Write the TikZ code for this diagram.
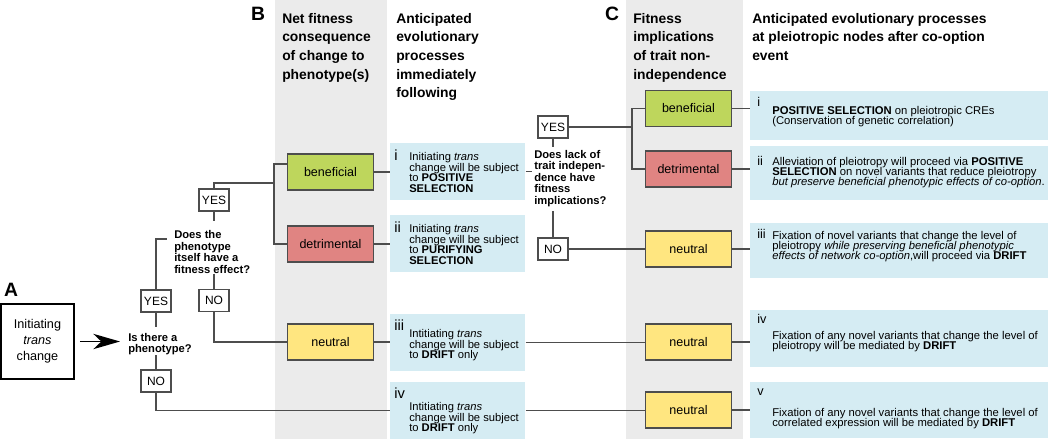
\documentclass[tikz,border=0pt]{standalone}
\usepackage{fontspec}
\setmainfont{Liberation Sans}
\usetikzlibrary{arrows.meta,positioning}
\definecolor{colgray}{HTML}{EBEBEB}
\definecolor{boxblue}{HTML}{D5ECF3}
\definecolor{goodgreen}{HTML}{BED65C}
\definecolor{badred}{HTML}{E08482}
\definecolor{neutyellow}{HTML}{FFE680}
\definecolor{wire}{HTML}{4D4D4D}
\newcommand{\tightlines}{\lineskiplimit=-10pt\relax}

\begin{document}
\begin{tikzpicture}[x=0.75pt,y=-0.75pt,
  every node/.style={inner sep=0pt},
  conn/.style={draw=wire,line width=0.9pt},
  startbox/.style={draw=black,line width=1.6pt,minimum width=55pt,minimum height=56pt,align=center,font=\fontsize{9.5}{12}\selectfont},
  yn/.style={draw=wire,line width=0.9pt,fill=white,minimum width=22.5pt,minimum height=16.5pt,font=\fontsize{9}{10}\selectfont},
  outc/.style={draw=wire,line width=0.9pt,minimum width=64pt,minimum height=27pt,font=\fontsize{9.4}{11}\selectfont},
  quest/.style={align=left,anchor=west,font=\fontsize{8.4}{8.6}\selectfont\bfseries\tightlines},
  head/.style={align=left,anchor=north west,font=\fontsize{10.4}{14}\selectfont\bfseries},
  panel/.style={font=\fontsize{14.5}{14.5}\selectfont\bfseries},
  procB/.style={fill=boxblue,minimum width=101.25pt,minimum height=42.75pt,anchor=north west},
  procC/.style={fill=boxblue,minimum width=223.5pt,minimum height=#1,anchor=north west},
  numB/.style={anchor=north west,font=\fontsize{11}{11}\selectfont},
  numC/.style={anchor=north west,font=\fontsize{9.5}{9.5}\selectfont},
  txtB/.style={anchor=north west,align=left,font=\fontsize{8.4}{8}\selectfont\tightlines},
  txtC/.style={anchor=north west,align=left,font=\fontsize{8.45}{7.6}\selectfont\tightlines}]
\useasboundingbox (0,0) rectangle (1050,439);
\fill[colgray] (275,0) rectangle (387,439);
\fill[colgray] (626,0) rectangle (743,439);

\node[panel] (labA) at (11,290) {A};
\node[panel] (labB) at (258,14) {B};
\node[panel] (labC) at (612,14) {C};

\node[head] (hB1) at (282,13) {Net fitness\\consequence\\of change to\\phenotype(s)};
\node[head] (hB2) at (396,13) {Anticipated\\evolutionary\\processes\\immediately\\following};
\node[head] (hC1) at (633,13) {Fitness\\implications\\of trait non-\\independence};
\node[head] (hC2) at (752,13) {Anticipated evolutionary processes\\at pleiotropic nodes after co-option\\event};

\node[startbox] (start) at (37.5,341.5) {Initiating\\\textit{trans}\\change};
\node[quest] (q1) at (128,344) {Is there a\\phenotype?};
\node[yn] (yes1) at (156,301) {YES};
\node[yn] (no1) at (156,381) {NO};
\node[quest] (q2) at (174,252) {Does the\\phenotype\\itself have a\\fitness effect?};
\node[yn] (yes2) at (214,200) {YES};
\node[yn] (no2) at (214,300.5) {NO};

\node[outc,fill=goodgreen] (benB) at (330.5,172) {beneficial};
\node[outc,fill=badred] (detB) at (330.5,244) {detrimental};
\node[outc,fill=neutyellow] (neuB) at (330.5,342) {neutral};

\node[procB] (bi) at (390,143) {};
\node[procB] (bii) at (390,215) {};
\node[procB] (biii) at (390,314) {};
\node[procB] (biv) at (390,382) {};
\node[numB] at ([xshift=3pt,yshift=-5.25pt]bi.north west) {i};
\node[txtB] at ([xshift=14.25pt,yshift=-6.75pt]bi.north west) {Initiating \textit{trans}\\change will be subject\\to \textbf{POSITIVE}\\\textbf{SELECTION}};
\node[numB] at ([xshift=3pt,yshift=-5.25pt]bii.north west) {ii};
\node[txtB] at ([xshift=14.25pt,yshift=-6.75pt]bii.north west) {Initiating \textit{trans}\\change will be subject\\to \textbf{PURIFYING}\\\textbf{SELECTION}};
\node[numB] at ([xshift=3pt,yshift=-4.5pt]biii.north west) {iii};
\node[txtB] at ([xshift=14.25pt,yshift=-11.25pt]biii.north west) {Intitiating \textit{trans}\\change will be subject\\to \textbf{DRIFT} only};
\node[numB] at ([xshift=3pt,yshift=-4.5pt]biv.north west) {iv};
\node[txtB] at ([xshift=14.25pt,yshift=-15pt]biv.north west) {Intitiating \textit{trans}\\change will be subject\\to \textbf{DRIFT} only};

\node[quest] (q3) at (534,178.5) {Does lack of\\trait indepen-\\dence have\\fitness\\implications?};
\node[yn] (yes3) at (553,127) {YES};
\node[yn] (no3) at (553,249) {NO};
\coordinate (brB) at (274,183);
\coordinate (brC) at (632,127);

\node[outc,fill=goodgreen] (benC) at (688.5,108.5) {beneficial};
\node[outc,fill=badred] (detC) at (688.5,169) {detrimental};
\node[outc,fill=neutyellow] (neuC1) at (688.5,249) {neutral};
\node[outc,fill=neutyellow] (neuC2) at (688.5,342) {neutral};
\node[outc,fill=neutyellow] (neuC3) at (688.5,410) {neutral};

\node[procC=36.75pt] (ci) at (750,91) {};
\node[procC=40.5pt] (cii) at (750,146) {};
\node[procC=41.25pt] (ciii) at (750,223) {};
\node[procC=42.75pt] (civ) at (750,310) {};
\node[procC=42pt] (cv) at (750,382) {};
\node[numC] at ([xshift=5.25pt,yshift=-4.5pt]ci.north west) {i};
\node[txtC] at ([xshift=16.5pt,yshift=-11.25pt]ci.north west) {\textbf{POSITIVE SELECTION} on pleiotropic CREs\\(Conservation of genetic correlation)};
\node[numC] at ([xshift=5.25pt,yshift=-7.5pt]cii.north west) {ii};
\node[txtC] at ([xshift=16.5pt,yshift=-8.25pt]cii.north west) {Alleviation of pleiotropy will proceed via \textbf{POSITIVE}\\\textbf{SELECTION} on novel variants that reduce pleiotropy\\\textit{but preserve beneficial phenotypic effects of co-option}.};
\node[numC] at ([xshift=5.25pt,yshift=-4.5pt]ciii.north west) {iii};
\node[txtC] at ([xshift=16.5pt,yshift=-6pt]ciii.north west) {Fixation of novel variants that change the level of\\pleiotropy \textit{while preserving beneficial phenotypic}\\\textit{effects of network co-option},will proceed via \textbf{DRIFT}};
\node[numC] at ([xshift=5.25pt,yshift=-3pt]civ.north west) {iv};
\node[txtC] at ([xshift=16.5pt,yshift=-15.75pt]civ.north west) {Fixation of any novel variants that change the level of\\pleiotropy will be mediated by \textbf{DRIFT}};
\node[numC] at ([xshift=5.25pt,yshift=-5.25pt]cv.north west) {v};
\node[txtC] at ([xshift=16.5pt,yshift=-19.5pt]cv.north west) {Fixation of any novel variants that change the level of\\correlated expression will be mediated by \textbf{DRIFT}};

\draw[black,line width=1pt,-{Stealth[length=20pt,width=11.5pt,inset=6pt]},shorten <=3.5pt,shorten >=6pt] (start.east) -- (start.east -| q1.west);
\draw[conn,shorten >=4pt] (yes1.south) -- (yes1.south |- q1.north);
\draw[conn] (yes1.south |- q1.south) -- (no1.north);
\draw[conn,shorten >=5pt] (yes1.north) |- ([yshift=9.75pt]q2.west);
\draw[conn,shorten >=7pt] (yes2.south) -- (yes2.south |- q2.north);
\draw[conn] (no2.north |- q2.south) -- (no2.north);
\draw[conn] (yes2.north) |- (brB);
\draw[conn] ([yshift=6pt]benB.west) -| (brB) |- (detB.west);
\draw[conn] (no2.south) |- (neuB.west);
\draw[conn] (no1.south) |- (biv.west);
\draw[conn] (benB.east) -- (benB.east -| bi.west);
\draw[conn] (detB.east) -- (detB.east -| bii.west);
\draw[conn] (neuB.east) -- (neuB.east -| biii.west);
\draw[conn,shorten >=1.5pt] (bi.east) -- (bi.east -| q3.west);
\draw[conn,shorten >=2pt] (yes3.south) -- (yes3.south |- q3.north);
\draw[conn,shorten <=3pt] (no3.north |- q3.south) -- (no3.north);
\draw[conn] (yes3.east) -- (brC);
\draw[conn] (benC.west) -| (brC) |- (detC.west);
\draw[conn] (no3.east) -- (neuC1.west);
\draw[conn] (biii.east) -- (biii.east -| neuC2.west);
\draw[conn] (biv.east) -- (biv.east -| neuC3.west);
\draw[conn] (benC.east) -- (benC.east -| ci.west);
\draw[conn] (detC.east) -- (detC.east -| cii.west);
\draw[conn] (neuC1.east) -- (neuC1.east -| ciii.west);
\draw[conn] (neuC2.east) -- (neuC2.east -| civ.west);
\draw[conn] (neuC3.east) -- (neuC3.east -| cv.west);
\end{tikzpicture}
\end{document}
